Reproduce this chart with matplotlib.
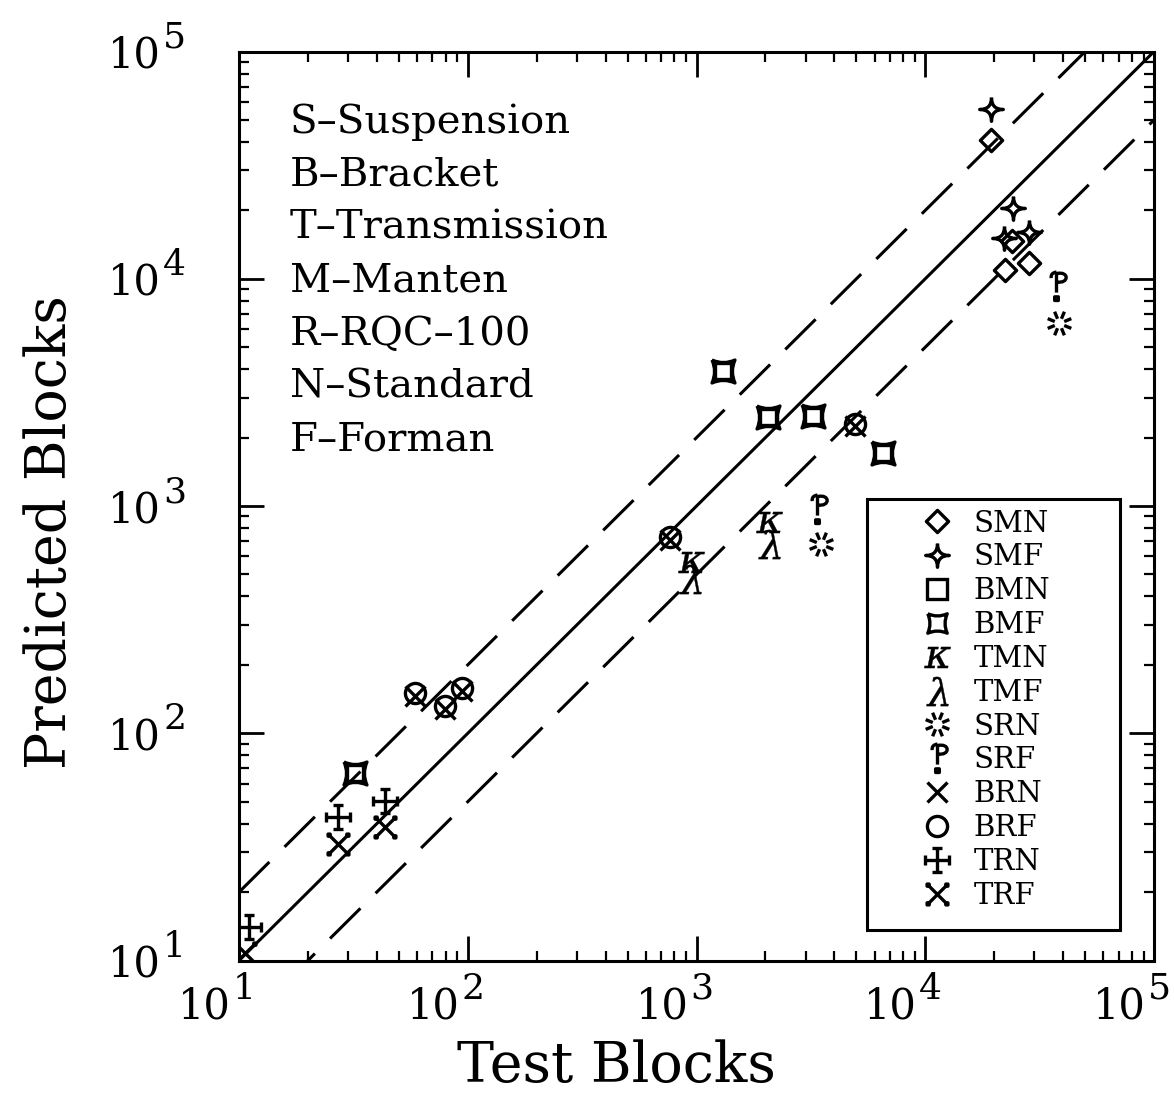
import numpy as np
import matplotlib
matplotlib.use("Agg")
import matplotlib.pyplot as plt
from matplotlib.path import Path
from matplotlib.patches import Rectangle
from matplotlib.transforms import offset_copy

plt.rcParams["font.family"] = ["DejaVu Serif"]
plt.rcParams["mathtext.fontset"] = "dejavuserif"

# test vs predicted blocks for each component / test / method combination
smn_test = [19400, 23900, 22400, 28500]
smn_pred = [40700, 14600, 10900, 11700]
smf_test = [19300, 24300, 22000, 28500]
smf_pred = [55600, 20400, 15100, 16100]
bmn_test = [32.1, 1302, 2054, 3230, 6560]
bmn_pred = [66.8, 3937, 2477, 2478, 1703]
bmf_test = [32.1, 1302, 2054, 3230, 6560]
bmf_pred = [66.8, 3937, 2477, 2478, 1703]
tmn_test = [943, 2069]
tmn_pred = [566, 850]
tmf_test = [940, 2069]
tmf_pred = [478, 683]
srn_test = [3483, 38440]
srn_pred = [684, 6410]
srf_test = [3367, 37220]
srf_pred = [974, 9250]
brn_test = [58.7, 79.4, 93.9, 769, 4920]
brn_pred = [146, 128, 154, 707, 2240]
brf_test = [58.7, 79.4, 93.9, 769, 4920]
brf_pred = [150.4, 131.6, 158.4, 728, 2306]
trn_test = [11.1, 27.1, 43.3]
trn_pred = [14.1, 42.7, 50.5]
trf_test = [10.6, 27.1, 43.3]
trf_pred = [10.8, 32.5, 38.6]

components = ["S-Suspension", "B-Bracket", "T-Transmission", "M-Manten",
              "R-RQC-100", "N-Standard", "F-Forman"]
decades = [1, 2, 3, 4, 5]

M, L, C3, C4, CL = Path.MOVETO, Path.LINETO, Path.CURVE3, Path.CURVE4, Path.CLOSEPOLY


def segments(pairs):
    verts, codes = [], []
    for a, b in pairs:
        verts += [a, b]
        codes += [M, L]
    return verts, codes


def small_square(cx, cy, h):
    v = [(cx - h, cy - h), (cx + h, cy - h), (cx + h, cy + h), (cx - h, cy + h), (cx - h, cy - h)]
    return v, [M, L, L, L, CL]


diamond = Path([(0, 1), (1, 0), (0, -1), (-1, 0), (0, 1)], [M, L, L, L, CL])

star4 = Path([(0, 1), (0, 0), (1, 0), (0, 0), (0, -1), (0, 0), (-1, 0), (0, 0), (0, 1)],
             [M, C3, C3, C3, C3, C3, C3, C3, C3])

concave_sq = Path([(-1, 1), (0, 0.55), (1, 1), (0.55, 0), (1, -1), (0, -0.55),
                   (-1, -1), (-0.55, 0), (-1, 1)],
                  [M, C3, C3, C3, C3, C3, C3, C3, C3])

v, c = segments([((0, -1), (0, 1)), ((-1, 0), (1, 0)),
                 ((-0.4, 1), (0.4, 1)), ((-0.4, -1), (0.4, -1)),
                 ((-1, -0.4), (-1, 0.4)), ((1, -0.4), (1, 0.4))])
crosslet = Path(v, c)

v, c = segments([((-0.9, -0.9), (0.9, 0.9)), ((-0.9, 0.9), (0.9, -0.9))])
for sx in (-0.9, 0.9):
    for sy in (-0.9, 0.9):
        sv, sc = small_square(sx, sy, 0.1)
        v += sv
        c += sc
dotted_x = Path(v, c)

pairs = []
for ang in np.deg2rad(np.arange(0, 360, 45) + 22.5):
    pairs.append(((0.4 * np.cos(ang), 0.4 * np.sin(ang)), (np.cos(ang), np.sin(ang))))
v, c = segments(pairs)
burst = Path(v, c)

v = [(0, 0.95), (0, -0.4),
     (0, 0.85), (0.85, 1.05), (0.85, 0.15), (0, 0.3),
     (-0.35, 0.55), (-0.4, 0.9), (0, 0.95)]
c = [M, L, M, C4, C4, C4, M, C3, C3]
sv, sc = small_square(0, -0.8, 0.12)
srf_mark = Path(v + sv, c + sc)

fig = plt.figure(figsize=(11.74, 10.96), dpi=100)
ax = fig.add_axes([0.2036, 0.1236, 0.7794, 0.8294])
ax.set_xscale("log")
ax.set_yscale("log")
ax.set_xlim(10, 1e5)
ax.set_ylim(10, 1e5)

# one-to-one line and factor-of-two band
ref = np.array([10, 1e5])
ax.plot(ref, ref, color="k", lw=2.2)
ax.plot(ref, ref * 2, color="k", lw=2.2, dashes=(14, 7))
ax.plot(ref, ref / 2, color="k", lw=2.2, dashes=(14, 7))

kw = dict(ls="none", color="k", mfc="none", mew=2.4)
ax.plot(smn_test, smn_pred, marker=diamond, ms=16, label="SMN", **kw)
ax.plot(smf_test, smf_pred, marker=star4, ms=17, label="SMF", **kw)
ax.plot(bmn_test, bmn_pred, marker="s", ms=11, label="BMN", **kw)
ax.plot(bmf_test, bmf_pred, marker=concave_sq, ms=16.5, label="BMF", **kw)
ax.plot(tmn_test, tmn_pred, ls="none", color="k", marker=r"$\kappa$", ms=19, mew=0.3, label="TMN")
ax.plot(tmf_test, tmf_pred, ls="none", color="k", marker=r"$\lambda$", ms=21, mew=0.3, label="TMF")
ax.plot(srn_test, srn_pred, marker=burst, ms=17, label="SRN", **kw)
ax.plot(srf_test, srf_pred, marker=srf_mark, ms=23, label="SRF", **kw)
ax.plot(brn_test, brn_pred, marker="x", ms=15, label="BRN", **kw)
ax.plot(brf_test, brf_pred, marker="o", ms=14.5, label="BRF", **kw)
ax.plot(trn_test, trn_pred, marker=crosslet, ms=17, label="TRN", **kw)
ax.plot(trf_test, trf_pred, marker=dotted_x, ms=15, label="TRF", **kw)

for s in ax.spines.values():
    s.set_linewidth(2.2)
ax.tick_params(which="major", direction="in", length=18, width=2, top=True, right=True,
               labelbottom=False, labelleft=False)
ax.tick_params(which="minor", direction="in", length=7.5, width=1.6, top=True, right=True,
               labelbottom=False, labelleft=False)

# power-of-ten labels with a large exponent
for d in decades:
    xt = ax.get_xaxis_transform()
    ax.text(10 ** d, 0, "10", fontsize=30, ha="right", va="baseline",
            transform=offset_copy(xt, fig, x=-8, y=-58, units="dots"))
    ax.text(10 ** d, 0, str(d), fontsize=26, ha="left", va="baseline",
            transform=offset_copy(xt, fig, x=-6, y=-38, units="dots"))
    yt = ax.get_yaxis_transform()
    ax.text(0, 10 ** d, "10", fontsize=30, ha="right", va="baseline",
            transform=offset_copy(yt, fig, x=-78, y=-16, units="dots"))
    ax.text(0, 10 ** d, str(d), fontsize=26, ha="left", va="baseline",
            transform=offset_copy(yt, fig, x=-76, y=4, units="dots"))

ax.set_xlabel("Test Blocks", fontsize=40)
ax.set_ylabel("Predicted Blocks", fontsize=40)
ax.xaxis.set_label_coords(0.413, -0.087)
ax.yaxis.set_label_coords(-0.176, 0.471)

for i, name in enumerate(components):
    ax.text(0.0557, 0.9224 - i * 0.0583, name.replace("-", "\u2013"),
            fontsize=29, ha="left", va="center", transform=ax.transAxes)

ax.add_patch(Rectangle((0.686, 0.0336), 0.277, 0.474, transform=ax.transAxes,
                       fill=False, ec="k", lw=2.2, zorder=5))
leg = ax.legend(loc="upper left", bbox_to_anchor=(0.7464, 0.496), frameon=False,
                fontsize=21, handlelength=1.0, handletextpad=0.77, borderpad=0,
                borderaxespad=0, labelspacing=0.2, numpoints=1)
for h in leg.legend_handles:
    if h.get_label() in ("BMN", "BMF"):
        h.set_markersize(14)

fig.savefig("out.png", dpi=100)
